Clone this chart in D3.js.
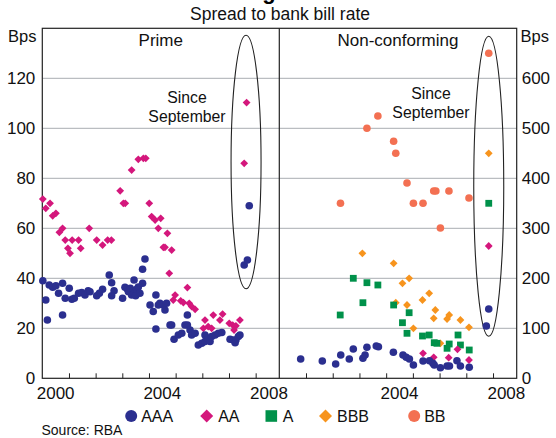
<!DOCTYPE html>
<html>
<head>
<meta charset="utf-8">
<script src="https://cdn.jsdelivr.net/npm/d3@7"></script>
<style>
  html, body { margin: 0; padding: 0; background: #fff; }
  svg { display: block; font-family: "Liberation Sans", Arial, sans-serif; }
</style>
</head>
<body>
<svg id="chart" width="556" height="438"></svg>
<script>
// ---------------- DATA ----------------
// [year (decimal), spread in bps]
const primeAAA = [
  [2000.02,39],[2000.13,31.3],[2000.19,23.3],[2000.26,37.3],[2000.39,36.4],[2000.51,37],
  [2000.61,34],[2000.76,38],[2000.76,25.3],[2000.86,32],[2001.01,36],[2001.11,31.6],
  [2001.2,32],[2001.36,34],[2001.48,34.3],[2001.6,33.3],[2001.72,35],[2001.79,34.6],
  [2002.04,33],[2002.14,34],[2002.26,35.6],[2002.51,41.3],[2002.6,38.2],[2002.69,35],
  [2002.6,33],[2003.01,32],[2003.1,36.4],[2003.2,35.5],[2003.23,34.6],[2003.3,36],
  [2003.35,33.3],[2003.44,39.3],[2003.45,34],[2003.5,33],[2003.54,35.6],[2003.6,36.5],
  [2003.66,34],[2003.76,38],[2003.76,43.6],[2003.85,47.7],
  [2004.04,29.3],[2004.16,26.7],[2004.26,33.3],[2004.26,19.7],[2004.35,29.3],[2004.41,30],
  [2004.54,29.3],[2004.6,27.3],[2004.66,30],[2004.79,21.3],[2004.85,21.3],[2004.94,15.6],
  [2005.1,17.3],[2005.23,18],[2005.35,21.3],[2005.44,25.3],[2005.44,21.3],[2005.54,19.3],
  [2005.6,17.3],[2005.73,18],[2005.85,13.3],[2005.98,14],[2006.1,14.7],[2006.1,17.3],
  [2006.22,16],[2006.29,14.7],[2006.35,16.7],[2006.48,17.3],[2006.6,18],[2006.73,18.3],
  [2007.04,15.6],[2007.16,15.3],[2007.23,14.2],[2007.26,15.3],[2007.35,16.7],[2007.41,17.3],
  [2007.57,45.3],[2007.69,47.3],[2007.76,69]
];
const primeAA = [
  [2000.02,71.7],[2000.13,68],[2000.29,70],[2000.39,65],[2000.51,66],[2000.64,58.4],
  [2000.76,60],[2000.86,55.3],[2000.96,52],[2001.04,50],[2001.12,55.3],[2001.36,55.3],
  [2001.44,52],[2001.76,60],[2002.04,55.3],[2002.26,53.3],[2002.45,55.3],[2002.59,55.3],
  [2002.92,75],[2003.04,70],[2003.11,70],[2003.35,83.3],[2003.6,87.6],[2003.79,88],
  [2003.88,88],[2004.01,70],[2004.1,64.7],[2004.23,63.3],[2004.44,64],[2004.35,60],
  [2004.69,58],[2004.54,52.4],[2004.6,52.4],[2004.85,51.3],[2004.76,42],[2004.98,33.3],
  [2004.91,31.3],[2005.19,31],[2005.29,30.3],[2005.44,36.3],[2005.51,30],[2005.6,28.7],
  [2005.73,27.6],[2006.04,20],[2006.1,23.3],[2006.22,20.7],[2006.35,20],[2006.41,25.3],
  [2006.66,23.3],[2006.76,25.7],[2007.01,22],[2007.14,21.3],[2007.19,19.3],[2007.26,21],
  [2007.41,23.3],[2007.57,86],[2007.66,110.3]
];
const nonconfAAA = [
  [2000.8,38.6],[2001.61,34.6],[2002.11,28.6],[2002.3,46.6],[2002.62,38.6],[2002.77,58.6],
  [2003.13,40],[2003.21,46.6],[2003.28,62],[2003.63,64.6],[2003.71,63.2],[2004.27,52],
  [2004.63,46.6],[2004.75,42],[2004.87,38.6],[2005.02,26.6],[2005.38,34.6],[2005.62,35.2],
  [2005.75,30],[2005.8,26.6],[2006.03,21.2],[2006.28,24.6],[2006.37,24.6],[2006.65,35.2],
  [2006.78,24.6],[2007.11,22],[2007.75,104.6],[2007.84,138.6]
];
const nonconfAA = [
  [2005.38,50],[2005.78,42],[2006.34,41.2],[2006.67,58],[2007.1,36.6],[2007.84,264.6]
];
const nonconfA = [
  [2002.28,126.6],[2002.77,200],[2003.13,151.2],[2003.28,191.2],[2003.69,186.6],[2004.28,146.6],
  [2004.86,131.2],[2004.61,111.2],[2004.78,90],[2005.36,84.6],[2005.61,86.6],[2005.8,71.2],
  [2005.9,70],[2006.28,60],[2006.36,68.6],[2006.69,86.6],[2006.78,66.6],[2007.11,56.6],
  [2007.84,350]
];
const nonconfBBB = [
  [2003.11,250],[2004.28,230],[2004.61,190],[2004.86,200],[2004.36,151.2],[2004.78,146.6],
  [2005.36,156.6],[2005.61,170],[2005.84,136.6],[2005.78,120],[2006.28,118.6],[2006.36,126.6],
  [2006.78,116.6],[2007.1,102],[2005.02,100],[2006.03,70],[2007.84,450]
];
const nonconfBB = [
  [2002.29,350],[2003.28,500],[2003.69,524.6],[2004.28,474],[2004.36,450],[2004.78,390.6],
  [2005.02,350],[2005.38,350],[2005.78,374.6],[2005.86,374.6],[2006.35,374.6],[2006.03,300.6],
  [2007.1,360.6],[2007.84,650]
];
const leftTicks = [0, 20, 40, 60, 80, 100, 120];
const rightTicks = [0, 100, 200, 300, 400, 500, 600];
const yearTicks = [2001, 2002, 2003, 2004, 2005, 2006, 2007, 2008];
const leftYearLabels = [2000, 2004, 2008];
const rightYearLabels = [2004, 2008];
const seriesNames = ["AAA", "AA", "A", "BBB", "BB"];
const panelTitles = ["Prime", "Non-conforming"];
// "Since September" groups: [centre year, centre value, half-height in value units]
const leftOval = [2007.64, 86.5, 50.7];
const rightOval = [2007.84, 384, 300];

// ---------------- STYLE ----------------
const colors = { AAA: "#2b2f8f", AA: "#d4177c", A: "#00914a", BBB: "#f7941d", BB: "#f37052" };
const shapes = { AAA: "circle", AA: "diamond", A: "square", BBB: "diamond", BB: "circle" };
const FONT = "\"Liberation Sans\", Arial, sans-serif";

const svg = d3.select("#chart");
const X0 = 42.3, XM = 279.3, X1 = 516.7;
const YTOP = 28.3, YBOT = 378.3;
const yearEnd = 2000 + (XM - X0) / 26.67;

const xL = d3.scaleLinear().domain([2000, yearEnd]).range([X0, XM]);
const xR = d3.scaleLinear().domain([2000, yearEnd]).range([XM, X1]);
const yL = d3.scaleLinear().domain([0, 140]).range([YBOT, YTOP]);
const yR = d3.scaleLinear().domain([0, 700]).range([YBOT, YTOP]);

// partially visible bold heading at the very top (cut off in the original)
svg.append("text").attr("x", 269).attr("y", -1.5).attr("text-anchor", "middle")
  .style("font", "bold 22px " + FONT).attr("fill", "#000").text("g");

svg.append("text").attr("x", 280).attr("y", 20).attr("text-anchor", "middle")
  .style("font-size", "17.5px").attr("fill", "#111").text("Spread to bank bill rate");

// gridlines
const grid = svg.append("g");
leftTicks.filter(d => d > 0).forEach(v => {
  grid.append("line").attr("x1", X0).attr("x2", X1).attr("y1", yL(v)).attr("y2", yL(v))
    .attr("stroke", "#a9adb2").attr("stroke-width", 1);
});

// y axes
const axL = svg.append("g").attr("transform", `translate(${X0},0)`)
  .call(d3.axisLeft(yL).tickValues(leftTicks).tickSize(0).tickPadding(7));
const axR = svg.append("g").attr("transform", `translate(${X1},0)`)
  .call(d3.axisRight(yR).tickValues(rightTicks).tickSize(0).tickPadding(5));
[axL, axR].forEach(a => {
  a.select(".domain").remove();
  a.selectAll("text").style("font-size", "17px").style("font-family", FONT).attr("fill", "#111");
});

// x axes (inward ticks)
function xAxis(scale, labels) {
  const g = svg.append("g").attr("transform", `translate(0,${YBOT})`)
    .call(d3.axisBottom(scale).tickValues(yearTicks).tickSize(-5).tickFormat(""));
  g.select(".domain").remove();
  g.selectAll("line").attr("stroke", "#222");
  svg.append("g").selectAll("text").data(labels).enter().append("text")
    .attr("x", d => scale(d + 0.5)).attr("y", 399).attr("text-anchor", "middle")
    .style("font-size", "17px").style("font-family", FONT).attr("fill", "#111").text(d => d);
}
xAxis(xL, leftYearLabels);
xAxis(xR, rightYearLabels);

// frame and divider
svg.append("rect").attr("x", X0).attr("y", YTOP).attr("width", X1 - X0).attr("height", YBOT - YTOP)
  .attr("fill", "none").attr("stroke", "#222").attr("stroke-width", 1.2);
svg.append("line").attr("x1", XM).attr("x2", XM).attr("y1", YTOP).attr("y2", YBOT)
  .attr("stroke", "#222").attr("stroke-width", 1.2);

// Bps labels
svg.append("text").attr("x", 8).attr("y", 42).style("font-size", "16.5px").attr("fill", "#111").text("Bps");
svg.append("text").attr("x", 520.5).attr("y", 42).style("font-size", "16.5px").attr("fill", "#111").text("Bps");

// panel titles
svg.append("text").attr("x", (X0 + XM) / 2).attr("y", 46).attr("text-anchor", "middle")
  .style("font-size", "17px").attr("fill", "#111").text(panelTitles[0]);
svg.append("text").attr("x", (XM + X1) / 2).attr("y", 46).attr("text-anchor", "middle")
  .style("font-size", "17px").attr("fill", "#111").text(panelTitles[1]);

// ovals + annotation
function oval(xs, ys, spec, lx, ly) {
  svg.append("ellipse").attr("cx", xs(spec[0])).attr("cy", ys(spec[1]))
    .attr("rx", 15).attr("ry", ys(0) - ys(spec[2]))
    .attr("fill", "none").attr("stroke", "#222").attr("stroke-width", 1.1);
  const t = svg.append("text").attr("text-anchor", "middle").style("font-size", "15.8px").attr("fill", "#111");
  t.append("tspan").attr("x", lx).attr("y", ly).text("Since");
  t.append("tspan").attr("x", lx).attr("y", ly + 18.5).text("September");
}
oval(xL, yL, leftOval, 187, 103);
oval(xR, yR, rightOval, 431, 99);

// markers
function marker(sel, shape, size) {
  if (shape === "circle") {
    sel.append("circle").attr("r", size);
  } else if (shape === "square") {
    sel.append("rect").attr("x", -size).attr("y", -size).attr("width", 2 * size).attr("height", 2 * size);
  } else {
    sel.append("path").attr("d", `M0,${-size}L${size},0L0,${size}L${-size},0Z`);
  }
}
function drawSeries(data, name, xs, ys) {
  const g = svg.append("g").attr("fill", colors[name]);
  const size = shapes[name] === "circle" ? 3.8 : shapes[name] === "square" ? 3.4 : 3.9;
  data.forEach(d => {
    const m = g.append("g").attr("transform", `translate(${xs(d[0])},${ys(d[1])})`);
    marker(m, shapes[name], size);
  });
}
drawSeries(primeAA, "AA", xL, yL);
drawSeries(primeAAA, "AAA", xL, yL);
drawSeries(nonconfBB, "BB", xR, yR);
drawSeries(nonconfBBB, "BBB", xR, yR);
drawSeries(nonconfA, "A", xR, yR);
drawSeries(nonconfAA, "AA", xR, yR);
drawSeries(nonconfAAA, "AAA", xR, yR);

// legend
const legendX = [131.2, 206.7, 271.3, 325.5, 414.2];
const legY = 416;
seriesNames.forEach((name, i) => {
  const g = svg.append("g").attr("transform", `translate(${legendX[i]},${legY})`).attr("fill", colors[name]);
  const s = shapes[name] === "circle" ? 6 : shapes[name] === "square" ? 5.8 : 6.5;
  marker(g, shapes[name], s);
  svg.append("text").attr("x", legendX[i] + (shapes[name] === "circle" ? 10 : 11.5)).attr("y", legY + 6)
    .style("font-size", "16px").attr("fill", "#111").text(name);
});

svg.append("text").attr("x", 41.5).attr("y", 435).style("font-size", "14px").attr("fill", "#111").text("Source: RBA");
</script>
</body>
</html>
